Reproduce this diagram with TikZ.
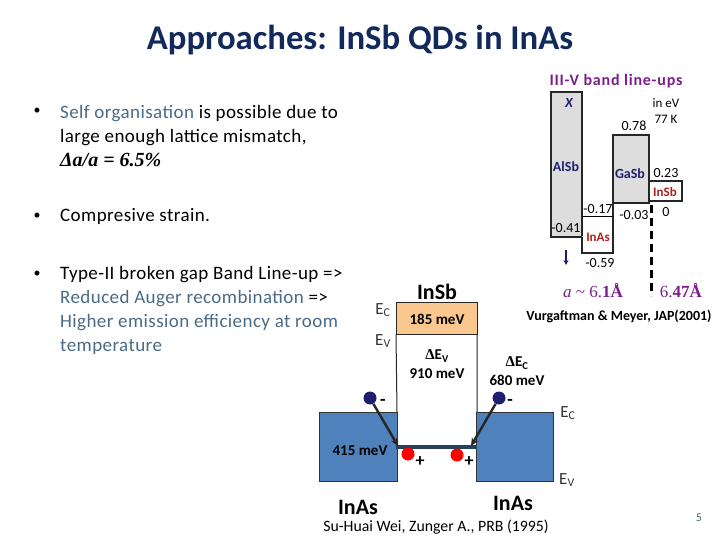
\documentclass[tikz,border=0pt]{standalone}
\usepackage{fontspec}
\setmainfont{Carlito}
\newfontfamily\serifface{Liberation Serif}
\newfontfamily\bulletface[LetterSpace=2.2]{Carlito}
\newfontfamily\headface[LetterSpace=5]{Carlito}
\usetikzlibrary{arrows.meta}
\definecolor{titleblue}{HTML}{12295C}
\definecolor{slate}{HTML}{4A6A85}
\definecolor{plum}{HTML}{7B1E8C}
\definecolor{boxgrey}{HTML}{DDDDDD}
\definecolor{peach}{HTML}{FAC78F}
\definecolor{wellblue}{HTML}{4F81BD}
\definecolor{barblue}{HTML}{254061}
\definecolor{navy}{HTML}{1F1F6F}
\definecolor{brick}{HTML}{B02020}
\tikzset{
  bullettext/.style={anchor=north west,align=left,font=\bulletface\fontsize{19}{24}\selectfont,inner sep=0pt},
  bulletdot/.style={anchor=base,font=\fontsize{14}{16}\selectfont,inner sep=0pt},
  band/.style={draw=black!85,line width=1.5pt},
  small/.style={font=\fontsize{14}{16}\selectfont,inner sep=0pt},
  lab/.style={font=\bfseries\fontsize{15}{16}\selectfont,inner sep=0pt,align=center},
  tag/.style={font=\bfseries\fontsize{14}{16}\selectfont,inner sep=0pt},
  level/.style={font=\fontsize{17}{19}\selectfont,inner sep=0pt,text=black!80},
  big/.style={font=\bfseries\fontsize{22}{24}\selectfont,inner sep=0pt},
  sign/.style={font=\bfseries\fontsize{18}{20}\selectfont,inner sep=0pt},
  lattice/.style={font=\serifface\fontsize{17}{19}\selectfont,text=plum,inner sep=0pt},
  carrier/.style={circle,inner sep=0pt,minimum size=13pt},
  flow/.style={-{Stealth[length=8pt,width=7pt]},line width=2.4pt,draw=black!85}
}
\begin{document}
\begin{tikzpicture}[x=1pt,y=-1pt]
    \useasboundingbox (0,0) rectangle (720,540);

    % nadpis
    \node[font=\bfseries\fontsize{34.7}{38}\selectfont,text=titleblue,inner sep=0pt] (title) at (360,40) {Approaches: InSb QDs in InAs};

    % odrazky
    \node[bulletdot] (b1) at (37,115) {•};
    \node[bullettext] (self) at (60,105) {\textcolor{slate}{Self organisation} is possible due to\\large enough lattice mismatch,\\{\serifface\bfseries\itshape\fontsize{20}{24}\selectfont Δa/a = 6.5\%}};
    \node[bulletdot] (b2) at (37,219) {•};
    \node[bullettext] (strain) at (60,208) {Compresive strain.};
    \node[bulletdot] (b3) at (37,277) {•};
    \node[bullettext] (type) at (60,266.5) {Type-II broken gap Band Line-up =>\\\textcolor{slate}{Reduced Auger recombination} =>\\\textcolor{slate}{Higher emission efficiency at room}\\\textcolor{slate}{temperature}};

    % line-ups
    \node[font=\headface\bfseries\fontsize{16}{18}\selectfont,text=plum,inner sep=0pt] (lineups) at (616,81) {III-V band line-ups};
    \draw[band,fill=boxgrey] (551,92) rectangle (582,237);
    \draw[band,fill=boxgrey] (613,135) rectangle (649,203);
    \draw[band,fill=white] (649,181) rectangle (682,201);
    \draw[band,fill=white] (582,237) -- (582,253) -- (613,253) -- (613,203);
    \draw[line width=1pt] (582,217) -- (613,217);
    \draw[line width=3pt,dash pattern=on 8pt off 5pt] (651,205) coordinate (gapa) -- (651,296) coordinate (gapb);
    \node[font=\bfseries\itshape\fontsize{14}{16}\selectfont,text=navy,inner sep=0pt] (xlab) at (569,103) {X};
    \node[tag,text=navy] (alsb) at (566,167) {AlSb};
    \node[tag,text=navy] (gasb) at (630,174) {GaSb};
    \node[tag,font=\bfseries\fontsize{13}{16}\selectfont,text=brick] (insbtop) at (665,192) {InSb};
    \node[tag,font=\bfseries\fontsize{13}{16}\selectfont,text=brick] (inastop) at (598,237) {InAs};
    \node[small,font=\fontsize{13}{16}\selectfont] (ineV) at (666,103) {in eV};
    \node[small,font=\fontsize{13}{16}\selectfont] (temp) at (666,119) {77 K};
    \node[small] (v078) at (634,126) {0.78};
    \node[small] (v023) at (666,173) {0.23};
    \node[small] (v017) at (598,209) {-0.17};
    \node[small] (v003) at (634,215) {-0.03};
    \node[small] (v0) at (666,212) {0};
    \node[small] (v041) at (566,228) {-0.41};
    \node[small] (v059) at (600,263) {-0.59};
    \coordinate (downa) at (566,250);
    \coordinate (downb) at (566,265);
    \draw[-{Stealth[length=5pt,width=5pt]},line width=1.2pt,draw=navy] (downa) -- (downb);
    \node[lattice] (lat1) at (593,291) {\textit{a} \textasciitilde{} 6.{\bfseries 1Å}};
    \node[lattice] (lat2) at (681,291) {6.{\bfseries 47Å}};
    \node[font=\bfseries\fontsize{14}{16}\selectfont,inner sep=0pt] (vurg) at (619,316) {Vurgaftman \& Meyer, JAP(2001)};

    % InSb jama
    \draw[fill=peach,draw=black!85,line width=1pt] (396,302) rectangle (477,334);
    \draw[line width=1pt,draw=black!85] (396,334) -- (397,412) (477,334) -- (477,412);
    \draw[fill=wellblue,draw=black!80,line width=.7pt] (319,412) rectangle (397,481);
    \draw[fill=wellblue,draw=black!80,line width=.7pt] (476,412) rectangle (553,481);
    \draw[line width=4pt,draw=barblue] (396,447) coordinate (barl) -- (477,447) coordinate (barr);
    \node[big] (insb) at (437,292) {InSb};
    \node[big] (inasl) at (358,507) {InAs};
    \node[big] (inasr) at (513,503) {InAs};
    \node[lab] (m185) at (437,319) {185 meV};
    \node[lab] (dev) at (437,364.5) {{\serifface Δ}E\textsubscript{V}\\[3pt]910 meV};
    \node[lab] (dec) at (517,371.5) {{\serifface Δ}E\textsubscript{C}\\[3pt]680 meV};
    \node[lab] (m415) at (360,451) {415 meV};
    \node[level] (ecl) at (383,310) {E\textsubscript{C}};
    \node[level] (evl) at (383,341) {E\textsubscript{V}};
    \node[level] (ecr) at (568,413) {E\textsubscript{C}};
    \node[level] (evr) at (567,480) {E\textsubscript{V}};

    % nosice
    \node[carrier,fill=navy] (el) at (370,398) {};
    \node[carrier,fill=navy] (er) at (499,398) {};
    \node[carrier,fill=red] (hl) at (408,454) {};
    \node[carrier,fill=red] (hr) at (457,455) {};
    \node[sign] (ml) at (383,402) {-};
    \node[sign] (mr) at (510,402) {-};
    \node[sign] (pl) at (420,462) {+};
    \node[sign] (pr) at (469,462) {+};
    \coordinate (arl) at (398,446);
    \coordinate (arr) at (471,446);
    \draw[flow] (el) -- (arl);
    \draw[flow] (er) -- (arr);

    % citace
    \node[font=\fontsize{15.8}{17}\selectfont,inner sep=0pt] (wei) at (436,527) {Su-Huai Wei, Zunger A., PRB (1995)};
    \node[font=\fontsize{12}{14}\selectfont,text=slate,inner sep=0pt] (page) at (699,518) {5};
\end{tikzpicture}
\end{document}
